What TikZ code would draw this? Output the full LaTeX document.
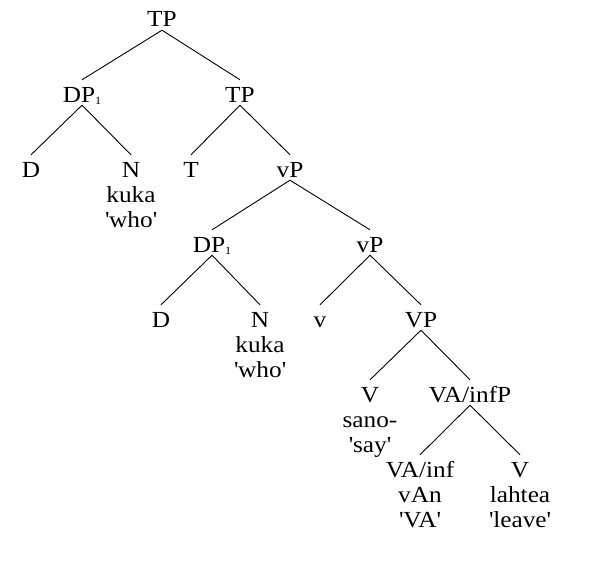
\documentclass[tikz,border=0pt]{standalone}
\usepackage{fontspec}
\setmainfont{Liberation Serif}[FakeStretch=1.1]
\begin{document}
\begin{tikzpicture}[x=1pt,y=-1pt,
  lab/.style={anchor=base,inner sep=0pt,text height=22pt,text depth=3pt,font=\fontsize{23}{25}\selectfont},
  gloss/.style={anchor=base,inner sep=0pt,font=\fontsize{23}{25}\selectfont},
  branch/.style={draw=black,line width=0.9pt}]
\useasboundingbox (0,0) rectangle (608,570);
\newcommand{\subone}{\raisebox{-2pt}{\fontsize{11}{11}\selectfont 1}}
\newcommand{\sq}{\textquotesingle}
% level 0
\node[lab] (TP0) at (162,27) {TP};
% level 1
\node[lab] (DP1) at (82,102) {DP\subone};
\node[lab] (TP1) at (240,102) {TP};
% level 2
\node[lab] (D1) at (31,177) {D};
\node[lab] (N1) at (131,177) {N};
\node[gloss] (N1a) at (131,202) {kuka};
\node[gloss] (N1b) at (131,227) {\sq who\sq};
\node[lab] (T) at (191,177) {T};
\node[lab] (vP1) at (290,177) {vP};
% level 3
\node[lab] (DP2) at (212,252) {DP\subone};
\node[lab] (vP2) at (370,252) {vP};
% level 4
\node[lab] (D2) at (161,327) {D};
\node[lab] (N2) at (260,327) {N};
\node[gloss] (N2a) at (260,352) {kuka};
\node[gloss] (N2b) at (260,377) {\sq who\sq};
\node[lab] (v) at (320,327) {v};
\node[lab] (VP) at (421,327) {VP};
% level 5
\node[lab] (V1) at (370,402) {V};
\node[gloss] (V1a) at (370,427) {sano-};
\node[gloss] (V1b) at (370,452) {\sq say\sq};
\node[lab] (VAinfP) at (470,402) {VA/infP};
% level 6
\node[lab] (VAinf) at (420,477) {VA/inf};
\node[gloss] (VAinfa) at (420,502) {vAn};
\node[gloss] (VAinfb) at (420,527) {\sq VA\sq};
\node[lab] (V2) at (520,477) {V};
\node[gloss] (V2a) at (520,502) {lahtea};
\node[gloss] (V2b) at (520,527) {\sq leave\sq};
% branches
\draw[branch] (TP0.south) -- (DP1.north);
\draw[branch] (TP0.south) -- (TP1.north);
\draw[branch] (DP1.south) -- (D1.north);
\draw[branch] (DP1.south) -- (N1.north);
\draw[branch] (TP1.south) -- (T.north);
\draw[branch] (TP1.south) -- (vP1.north);
\draw[branch] (vP1.south) -- (DP2.north);
\draw[branch] (vP1.south) -- (vP2.north);
\draw[branch] (DP2.south) -- (D2.north);
\draw[branch] (DP2.south) -- (N2.north);
\draw[branch] (vP2.south) -- (v.north);
\draw[branch] (vP2.south) -- (VP.north);
\draw[branch] (VP.south) -- (V1.north);
\draw[branch] (VP.south) -- (VAinfP.north);
\draw[branch] (VAinfP.south) -- (VAinf.north);
\draw[branch] (VAinfP.south) -- (V2.north);
\end{tikzpicture}
\end{document}
